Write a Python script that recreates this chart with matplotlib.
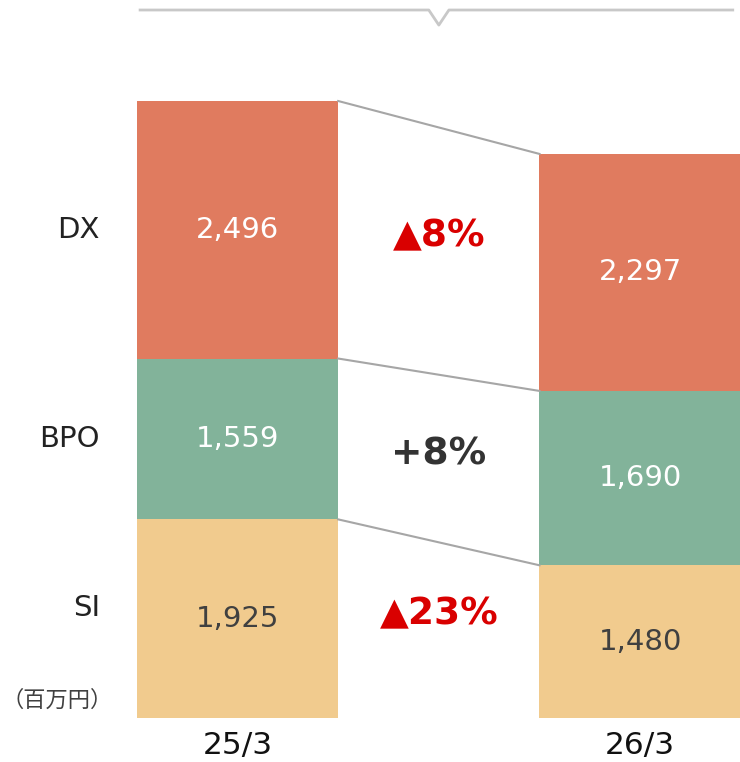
import matplotlib
matplotlib.use("Agg")
import matplotlib.pyplot as plt
import numpy as np

plt.rcParams['font.family'] = ['DejaVu Sans', 'Noto Sans CJK JP']

periods = ['25/3', '26/3']
segments = ['SI', 'BPO', 'DX']
si = [1925, 1480]
bpo = [1559, 1690]
dx = [2496, 2297]
changes = ['▲23%', '+8%', '▲8%']

seg_colors = ['#F1CB8E', '#82B39A', '#E07B5F']
val_colors = ['#404040', 'white', 'white']
chg_colors = ['#D90000', '#333333', '#D90000']

fig = plt.figure(figsize=(7.4, 7.62), dpi=100)
ax = fig.add_axes([0, 44 / 762, 1, 718 / 762])
ax.set_xlim(-0.59, 1.248)
ax.set_ylim(0, 6959)
ax.axis('off')

x = np.arange(len(periods))
w = 0.5
series = [si, bpo, dx]
bottom = np.zeros(len(periods))
tops = []
for vals, col, tcol in zip(series, seg_colors, val_colors):
    vals = np.array(vals)
    ax.bar(x, vals, w, bottom=bottom, color=col, linewidth=0)
    for xi, b, v in zip(x, bottom, vals):
        ax.text(xi, b + v / 2, f'{v:,}', ha='center', va='center',
                fontsize=21, color=tcol)
    bottom = bottom + vals
    tops.append(bottom.copy())

# connector lines between the stacks
for t in tops:
    ax.plot([x[0] + w / 2, x[1] - w / 2], [t[0], t[1]], color='#A6A6A6', lw=1.5)

# change labels in the gap
prev = np.zeros(len(periods))
offsets = [155, 40, 140]
for t, label, col, off in zip(tops, changes, chg_colors, offsets):
    mid = ((prev + t) / 2).mean() + off
    ax.text(0.5, mid, label, ha='center', va='center', fontsize=27,
            fontweight='bold', color=col)
    prev = t

# segment names on the left
prev = np.zeros(len(periods))
name_off = [100, 0, 0]
for t, name, off in zip(tops, segments, name_off):
    ax.text(-0.342, (prev[0] + t[0]) / 2 + off, name, ha='right', va='center',
            fontsize=21, color='#222222')
    prev = t

for xi, p in zip(x, periods):
    ax.text(xi, -262, p, ha='center', va='center', fontsize=22.5, color='#111111',
            clip_on=False)

ax.text(-0.586, 174, '（百万円）', ha='left', va='center', fontsize=16,
        color='#404040', family=['Noto Sans CJK JP', 'DejaVu Sans'])

# bracket on top
by, nb = 6862, 6716
ax.plot([x[0] - w / 2 + 0.008, 0.475, 0.5, 0.525, x[1] + w / 2 - 0.02],
        [by, by, nb, by, by], color='#C8C8C8', lw=2, clip_on=False)

fig.savefig('out.png', dpi=100)
